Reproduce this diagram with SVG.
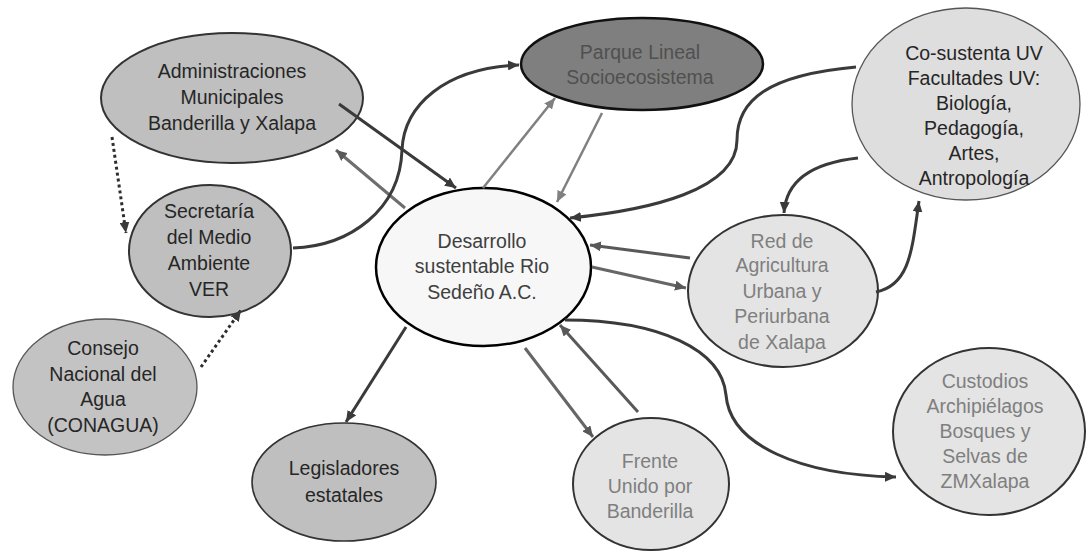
<svg xmlns="http://www.w3.org/2000/svg" width="1087" height="551" viewBox="0 0 1087 551">
<style>
.n text{font-family:"Liberation Sans",Arial,sans-serif;font-size:19.5px;text-anchor:middle}
.dk{fill:#262626}.md{fill:#404040}.lt{fill:#7f7f7f}.pk{fill:#505050}
.c{fill:none;stroke-linecap:butt}
.a1{stroke:#3a3a3a;stroke-width:3}
.a2{stroke:#595959;stroke-width:3}
.a3{stroke:#808080;stroke-width:2.5}
.dot{stroke:#2e2e2e;stroke-width:3;stroke-dasharray:3 3}
</style>
<defs>
<marker id="m1" markerUnits="userSpaceOnUse" markerWidth="11" markerHeight="10" refX="11" refY="5" orient="auto"><path d="M0,0 L11,5 L0,10 z" fill="#3a3a3a"/></marker>
<marker id="m2" markerUnits="userSpaceOnUse" markerWidth="11" markerHeight="10" refX="11" refY="5" orient="auto"><path d="M0,0 L11,5 L0,10 z" fill="#595959"/></marker>
<marker id="m3" markerUnits="userSpaceOnUse" markerWidth="11" markerHeight="10" refX="11" refY="5" orient="auto"><path d="M0,0 L11,5 L0,10 z" fill="#808080"/></marker>
</defs>
<rect width="1087" height="551" fill="#ffffff"/>

<g id="n-admin" class="n"><ellipse cx="232" cy="98" rx="131" ry="65" fill="#bfbfbf" stroke="#333" stroke-width="2"/>
<text class="dk" x="232" y="78">Administraciones</text><text class="dk" x="232" y="104">Municipales</text><text class="dk" x="232" y="130">Banderilla y Xalapa</text></g>

<g id="n-semarnat" class="n"><ellipse cx="210" cy="251" rx="81" ry="66" fill="#bfbfbf" stroke="#333" stroke-width="2"/>
<text class="dk" x="209" y="218">Secretaría</text><text class="dk" x="209" y="244">del Medio</text><text class="dk" x="209" y="270">Ambiente</text><text class="dk" x="209" y="296">VER</text></g>

<g id="n-conagua" class="n"><ellipse cx="105" cy="387" rx="92" ry="68" fill="#c3c3c3" stroke="#555" stroke-width="1.3"/>
<text class="dk" x="103" y="355">Consejo</text><text class="dk" x="103" y="381">Nacional del</text><text class="dk" x="103" y="406">Agua</text><text class="dk" x="103" y="432">(CONAGUA)</text></g>

<g id="n-legis" class="n"><ellipse cx="344" cy="482" rx="92" ry="59" fill="#bfbfbf" stroke="#333" stroke-width="1.6"/>
<text class="dk" x="344" y="475">Legisladores</text><text class="dk" x="344" y="502">estatales</text></g>

<g id="n-parque" class="n"><ellipse cx="642" cy="64" rx="121" ry="46" fill="#7f7f7f" stroke="#111" stroke-width="2.5"/>
<text class="pk" x="640" y="59">Parque Lineal</text><text class="pk" x="640" y="84">Socioecosistema</text></g>

<g id="n-cosustenta" class="n"><ellipse cx="966" cy="104" rx="114" ry="96" fill="#dedede" stroke="#555" stroke-width="1.3"/>
<text class="dk" x="974" y="60">Co-sustenta UV</text><text class="dk" x="974" y="85">Facultades UV:</text><text class="dk" x="974" y="110">Biología,</text><text class="dk" x="974" y="135">Pedagogía,</text><text class="dk" x="974" y="160">Artes,</text><text class="dk" x="974" y="185">Antropología</text></g>

<g id="n-central" class="n"><ellipse cx="483.5" cy="267" rx="107.5" ry="79" fill="#f7f7f7" stroke="#000" stroke-width="2.5"/>
<text class="md" x="482" y="248">Desarrollo</text><text class="md" x="482" y="273">sustentable Rio</text><text class="md" x="482" y="299">Sedeño A.C.</text></g>

<g id="n-red" class="n"><ellipse cx="783" cy="291" rx="95" ry="76" fill="#e4e4e4" stroke="#333" stroke-width="2"/>
<text class="lt" x="782" y="248">Red de</text><text class="lt" x="782" y="272">Agricultura</text><text class="lt" x="782" y="298">Urbana y</text><text class="lt" x="782" y="323">Periurbana</text><text class="lt" x="782" y="349">de Xalapa</text></g>

<g id="n-custodios" class="n"><ellipse cx="989" cy="431.5" rx="96" ry="83.5" fill="#e4e4e4" stroke="#333" stroke-width="2"/>
<text class="lt" x="985" y="388">Custodios</text><text class="lt" x="985" y="413">Archipiélagos</text><text class="lt" x="985" y="438">Bosques y</text><text class="lt" x="985" y="463">Selvas de</text><text class="lt" x="985" y="488">ZMXalapa</text></g>

<g id="n-frente" class="n"><ellipse cx="651" cy="484" rx="78" ry="66" fill="#e4e4e4" stroke="#333" stroke-width="2"/>
<text class="lt" x="650" y="468">Frente</text><text class="lt" x="650" y="493">Unido por</text><text class="lt" x="650" y="518">Banderilla</text></g>

<g id="connectors">
<path class="c a1" d="M339,104 L456,188" marker-end="url(#m1)"/>
<path class="c a2" style="stroke:#6e6e6e" d="M405,208 L336,150" marker-end="url(#m2)"/>
<path class="c a1" d="M293,248 C350,246 400,210 402,150 C404,105 445,68 519,65" marker-end="url(#m1)"/>
<path class="c a3" d="M483,188 L555,98" marker-end="url(#m3)"/>
<path class="c a3" d="M602,113 L557,202" marker-end="url(#m3)"/>
<path class="c a1" d="M856,67 C768,75 737,100 737,140 C737,190 650,210 570,218" marker-end="url(#m1)"/>
<path class="c a1" d="M858,158 C812,163 786,180 784,213" marker-end="url(#m1)"/>
<path class="c a1" d="M876,292 C910,285 912,250 919,201" marker-end="url(#m1)"/>
<path class="c a2" d="M690,258 L590,245" marker-end="url(#m2)"/>
<path class="c a2" style="stroke:#666" d="M592,267 L686,288" marker-end="url(#m2)"/>
<path class="c a1" d="M565,320 C660,320 722,350 726,395 C730,445 800,475 896,477" marker-end="url(#m1)"/>
<path class="c a2" style="stroke:#666" d="M525,348 L593,437" marker-end="url(#m2)"/>
<path class="c a2" d="M638,412 L560,325" marker-end="url(#m2)"/>
<path class="c a1" d="M406,327 L346,422" marker-end="url(#m1)"/>
<path class="c dot" d="M112,137 L126,233" marker-end="url(#m1)"/>
<path class="c dot" d="M201,367 L241,310" marker-end="url(#m1)"/>
</g>
</svg>
